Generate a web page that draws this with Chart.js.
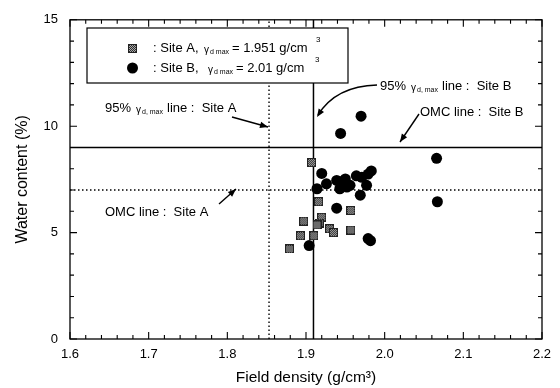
<!DOCTYPE html>
<html>
<head>
<meta charset="utf-8">
<script src="https://cdn.jsdelivr.net/npm/chart.js@4/dist/chart.umd.min.js"></script>
<style>
  html, body { margin: 0; padding: 0; background: #fff; }
  #wrap { width: 560px; height: 388px; }
</style>
</head>
<body>
<div id="wrap"><canvas id="chart" width="560" height="388"></canvas></div>
<script>
// values
const siteADensity = [1.907, 1.916, 1.957, 1.920, 1.917, 1.914, 1.897, 1.930, 1.935, 1.957, 1.893, 1.910, 1.879];
const siteAWater   = [8.29, 6.45, 6.04, 5.72, 5.45, 5.36, 5.54, 5.18, 5.00, 5.12, 4.85, 4.85, 4.23];

const siteBDensity = [1.944, 1.970, 2.066, 2.067, 1.920, 1.926, 1.914, 1.939, 1.945, 1.950, 1.956, 1.964,
                      1.971, 1.977, 1.983, 1.979, 1.969, 1.939, 1.904, 1.979, 1.982, 1.943, 1.952, 1.946];
const siteBWater   = [9.66, 10.47, 8.49, 6.45, 7.78, 7.29, 7.06, 7.45, 7.22, 7.52, 7.22, 7.67,
                      7.60, 7.22, 7.90, 7.75, 6.76, 6.15, 4.39, 4.72, 4.62, 7.06, 7.14, 7.40];

// reference lines
const densityLineA = 1.853;   // 95% of 1.951
const densityLineB = 1.9095;  // 95% of 2.01
const omcLineA = 7.0;
const omcLineB = 9.0;

const xRange = [1.6, 2.2];
const yRange = [0, 15];
const xTickLabels = ['1.6', '1.7', '1.8', '1.9', '2.0', '2.1', '2.2'];
const yTickLabels = ['0', '5', '10', '15'];

const FONT = '"Liberation Sans", Arial, sans-serif';

const toPoints = (xs, ys) => xs.map((x, i) => ({x: x, y: ys[i]}));

// checkered square marker
const makeSquare = (size) => {
    const c = document.createElement('canvas');
    c.width = size; c.height = size;
    const g = c.getContext('2d');
    g.fillStyle = '#222';
    g.fillRect(0, 0, size, size);
    for (let i = 1; i < size - 1; i++) {
        for (let j = 1; j < size - 1; j++) {
            g.fillStyle = ((i + j) % 2 === 0) ? '#2e2e2e' : '#a8a8a8';
            g.fillRect(i, j, 1, 1);
        }
    }
    return c;
};
const squareMarker = makeSquare(9);

// frame, inward ticks, legend box and annotations
const decorations = {
    id: 'decorations',
    afterDatasetsDraw(chart) {
        const ctx = chart.ctx;
        const xs = chart.scales.x, ys = chart.scales.y;
        const a = chart.chartArea;
        ctx.save();
        ctx.strokeStyle = '#000';
        ctx.lineWidth = 1.3;
        ctx.strokeRect(a.left, a.top, a.right - a.left, a.bottom - a.top);

        ctx.lineWidth = 1.1;
        ctx.beginPath();
        for (let i = 0; i <= 30; i++) {
            const v = xRange[0] + i * 0.02;
            const px = xs.getPixelForValue(v);
            const len = (i % 5 === 0) ? 7 : 4;
            ctx.moveTo(px, a.bottom); ctx.lineTo(px, a.bottom - len);
            ctx.moveTo(px, a.top); ctx.lineTo(px, a.top + len);
        }
        for (let i = 0; i <= 15; i++) {
            const py = ys.getPixelForValue(i);
            const len = (i % 5 === 0) ? 7 : 4;
            ctx.moveTo(a.left, py); ctx.lineTo(a.left + len, py);
            ctx.moveTo(a.right, py); ctx.lineTo(a.right - len, py);
        }
        ctx.stroke();

        // legend box
        ctx.fillStyle = '#fff';
        ctx.fillRect(87, 28, 261, 55);
        ctx.lineWidth = 1.2;
        ctx.strokeRect(87, 28, 261, 55);
        ctx.drawImage(squareMarker, 128, 44);
        ctx.fillStyle = '#000';
        ctx.beginPath();
        ctx.arc(132.5, 68, 5.5, 0, Math.PI * 2);
        ctx.fill();

        const put = (t, x, y, size, dy) => {
            ctx.font = size + 'px ' + FONT;
            ctx.fillText(t, x, y + (dy || 0));
        };
        ctx.textBaseline = 'middle';
        ctx.textAlign = 'left';
        put(': Site A,', 153, 48, 13);
        put('\u03b3', 204, 50, 10);
        put('d max', 210, 52, 7);
        put('= 1.951 g/cm', 232, 48, 13);
        put('3', 316, 40, 8);

        put(': Site B,', 153, 68, 13);
        put('\u03b3', 208, 70, 10);
        put('d max', 214, 72, 7);
        put('= 2.01 g/cm', 236, 68, 13);
        put('3', 315, 60, 8);

        // annotations
        put('95%', 105, 108, 13);
        put('\u03b3', 136, 110, 10);
        put('d, max', 142, 112, 7);
        put('line :  Site A', 167, 108, 13);

        put('95%', 380, 86, 13);
        put('\u03b3', 411, 88, 10);
        put('d, max', 417, 90, 7);
        put('line :  Site B', 442, 86, 13);

        put('OMC line :  Site B', 420, 112, 13);
        put('OMC line :  Site A', 105, 212, 13);

        const head = (x, y, ang) => {
            const L = 8, W = 3.2;
            ctx.beginPath();
            ctx.moveTo(x, y);
            ctx.lineTo(x - L * Math.cos(ang) + W * Math.sin(ang), y - L * Math.sin(ang) - W * Math.cos(ang));
            ctx.lineTo(x - L * Math.cos(ang) - W * Math.sin(ang), y - L * Math.sin(ang) + W * Math.cos(ang));
            ctx.closePath();
            ctx.fill();
        };
        const arrow = (x1, y1, x2, y2) => {
            ctx.beginPath();
            ctx.moveTo(x1, y1); ctx.lineTo(x2, y2);
            ctx.stroke();
            head(x2, y2, Math.atan2(y2 - y1, x2 - x1));
        };
        ctx.lineWidth = 1.4;
        arrow(232, 117, 268, 127);
        arrow(419, 114, 400, 142);
        arrow(219, 204, 236, 189);

        // curved arrow to site B density line
        ctx.beginPath();
        ctx.moveTo(377, 85);
        ctx.quadraticCurveTo(336, 86, 318, 115);
        ctx.stroke();
        head(317, 117, Math.atan2(115 - 98, 318 - 329));
        ctx.restore();
    }
};

const vLine = (xv) => [{x: xv, y: yRange[0]}, {x: xv, y: yRange[1]}];
const hLine = (yv) => [{x: xRange[0], y: yv}, {x: xRange[1], y: yv}];

new Chart(document.getElementById('chart').getContext('2d'), {
    type: 'scatter',
    data: {
        datasets: [
            {
                label: 'Site A',
                data: toPoints(siteADensity, siteAWater),
                pointStyle: squareMarker,
                pointRadius: 4.5,
                order: 1
            },
            {
                label: 'Site B',
                data: toPoints(siteBDensity, siteBWater),
                pointStyle: 'circle',
                pointRadius: 5.5,
                backgroundColor: '#000',
                borderColor: '#000',
                borderWidth: 0,
                order: 2
            },
            { type: 'line', data: vLine(densityLineA), borderColor: '#000', borderWidth: 1.4, borderDash: [1.5, 2.5], pointRadius: 0, order: 5 },
            { type: 'line', data: vLine(densityLineB), borderColor: '#000', borderWidth: 1.5, pointRadius: 0, order: 5 },
            { type: 'line', data: hLine(omcLineA), borderColor: '#000', borderWidth: 1.4, borderDash: [1.5, 2.5], pointRadius: 0, order: 5 },
            { type: 'line', data: hLine(omcLineB), borderColor: '#000', borderWidth: 1.5, pointRadius: 0, order: 5 }
        ]
    },
    options: {
        responsive: false,
        animation: false,
        events: [],
        layout: { padding: { left: 0, top: 12, right: 18, bottom: 0 } },
        plugins: { legend: { display: false }, tooltip: { enabled: false } },
        scales: {
            x: {
                type: 'linear',
                min: xRange[0], max: xRange[1],
                grid: { display: false, drawTicks: false },
                border: { display: false },
                afterFit: (s) => { s.height = 49; },
                afterBuildTicks: (s) => { s.ticks = xTickLabels.map(t => ({value: parseFloat(t)})); },
                ticks: {
                    padding: 8,
                    color: '#000',
                    font: { family: FONT, size: 13 },
                    callback: (v) => xTickLabels.find(t => Math.abs(parseFloat(t) - v) < 1e-6) || ''
                },
                title: {
                    display: true,
                    text: 'Field density (g/cm\u00b3)',
                    color: '#000',
                    font: { family: FONT, size: 15.5 },
                    padding: { top: 0, bottom: 1 }
                }
            },
            y: {
                type: 'linear',
                min: yRange[0], max: yRange[1],
                grid: { display: false, drawTicks: false },
                border: { display: false },
                afterFit: (s) => { s.width = 70; },
                afterBuildTicks: (s) => { s.ticks = yTickLabels.map(t => ({value: parseFloat(t)})); },
                ticks: {
                    padding: 12,
                    color: '#000',
                    font: { family: FONT, size: 13 },
                    callback: (v) => String(v)
                },
                title: {
                    display: true,
                    text: 'Water content (%)',
                    color: '#000',
                    font: { family: FONT, size: 16 },
                    padding: { top: 13, bottom: 0 }
                }
            }
        }
    },
    plugins: [decorations]
});
</script>
</body>
</html>
